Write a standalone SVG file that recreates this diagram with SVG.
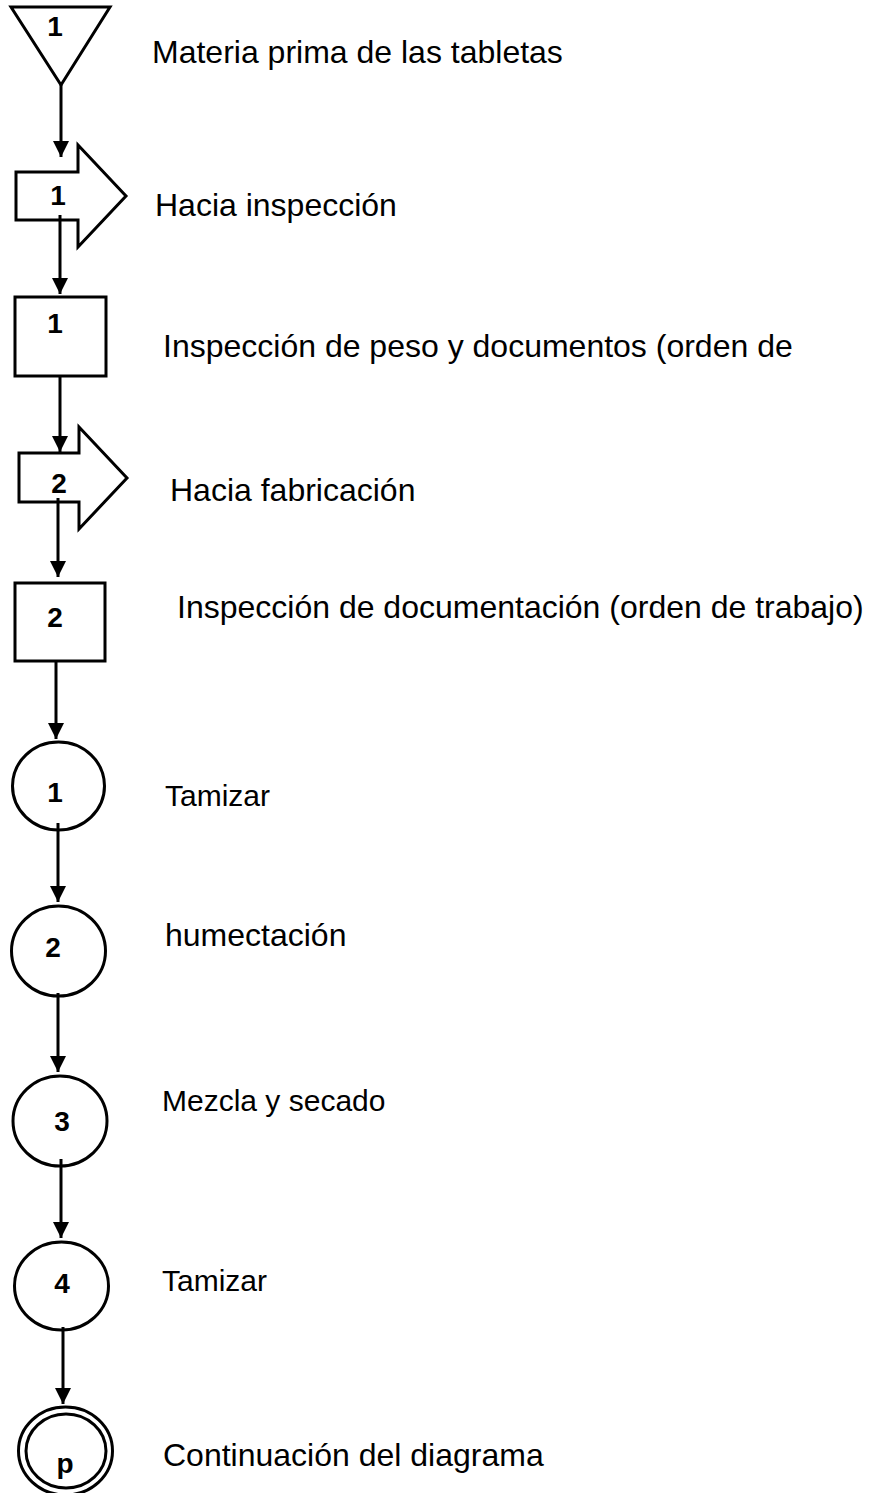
<svg xmlns="http://www.w3.org/2000/svg" width="874" height="1493" viewBox="0 0 874 1493">
<style>
.s{fill:#fff;stroke:#000;stroke-width:3;stroke-linejoin:miter}
.n{font-family:"Liberation Sans",Arial,sans-serif;font-weight:bold;font-size:28px;text-anchor:middle;fill:#000}
.t{font-family:"Liberation Sans",Arial,sans-serif;font-size:32px;fill:#000}
.u{font-size:30px}
.c{stroke:#000;stroke-width:3;fill:none;marker-end:url(#ah)}
</style>
<defs>
<marker id="ah" markerUnits="userSpaceOnUse" markerWidth="16" markerHeight="16" refX="16" refY="8" orient="auto">
<path d="M0,0 L16,8 L0,16 z" fill="#000"/>
</marker>
</defs>
<rect width="874" height="1493" fill="#fff"/>
<g id="n-almacen">
<polygon class="s" points="11,7 110,7 61,85"/>
<text class="n" x="55" y="36">1</text>
<text class="t" x="152" y="63">Materia prima de las tabletas</text>
</g>
<g id="n-transporte1">
<polygon class="s" points="16,172 78,172 78,145 126,196 78,247 78,220 16,220"/>
<text class="n" x="58" y="205">1</text>
<text class="t" x="155" y="216">Hacia inspección</text>
</g>
<g id="n-inspeccion1">
<rect class="s" x="15" y="297" width="91" height="79"/>
<text class="n" x="55" y="333">1</text>
<text class="t" x="163" y="357">Inspección de peso y documentos (orden de</text>
</g>
<g id="n-transporte2">
<polygon class="s" points="19,453 79,453 79,427 127,478 79,529 79,502 19,502"/>
<text class="n" x="59" y="493">2</text>
<text class="t" x="170" y="501">Hacia fabricación</text>
</g>
<g id="n-inspeccion2">
<rect class="s" x="15" y="583" width="90" height="78"/>
<text class="n" x="55" y="627">2</text>
<text class="t" x="177" y="618">Inspección de documentación (orden de trabajo)</text>
</g>
<g id="n-op1">
<ellipse class="s" cx="58.5" cy="786" rx="46" ry="44"/>
<text class="n" x="55" y="802">1</text>
<text class="t u" x="165" y="806">Tamizar</text>
</g>
<g id="n-op2">
<ellipse class="s" cx="58.5" cy="951" rx="47" ry="45"/>
<text class="n" x="53" y="957">2</text>
<text class="t" x="165" y="946">humectación</text>
</g>
<g id="n-op3">
<ellipse class="s" cx="60" cy="1121" rx="47" ry="45"/>
<text class="n" x="62" y="1131">3</text>
<text class="t u" x="162" y="1111">Mezcla y secado</text>
</g>
<g id="n-op4">
<ellipse class="s" cx="61.5" cy="1286" rx="47" ry="44"/>
<text class="n" x="62" y="1293">4</text>
<text class="t u" x="162" y="1291">Tamizar</text>
</g>
<g id="n-conector">
<ellipse class="s" cx="65.5" cy="1451" rx="47" ry="44"/>
<ellipse class="s" cx="66" cy="1451" rx="40" ry="37"/>
<text class="n" x="65" y="1473">p</text>
<text class="t" x="163" y="1466">Continuación del diagrama</text>
</g>
<g id="connectors">
<line class="c" x1="61" y1="85" x2="61" y2="157"/>
<line class="c" x1="60" y1="215" x2="60" y2="294"/>
<line class="c" x1="60" y1="376" x2="60" y2="452"/>
<line class="c" x1="58" y1="498" x2="58" y2="577"/>
<line class="c" x1="56" y1="661" x2="56" y2="739"/>
<line class="c" x1="58" y1="823" x2="58" y2="902"/>
<line class="c" x1="58" y1="993" x2="58" y2="1072"/>
<line class="c" x1="61" y1="1159" x2="61" y2="1238"/>
<line class="c" x1="63" y1="1327" x2="63" y2="1404"/>
</g>
</svg>
